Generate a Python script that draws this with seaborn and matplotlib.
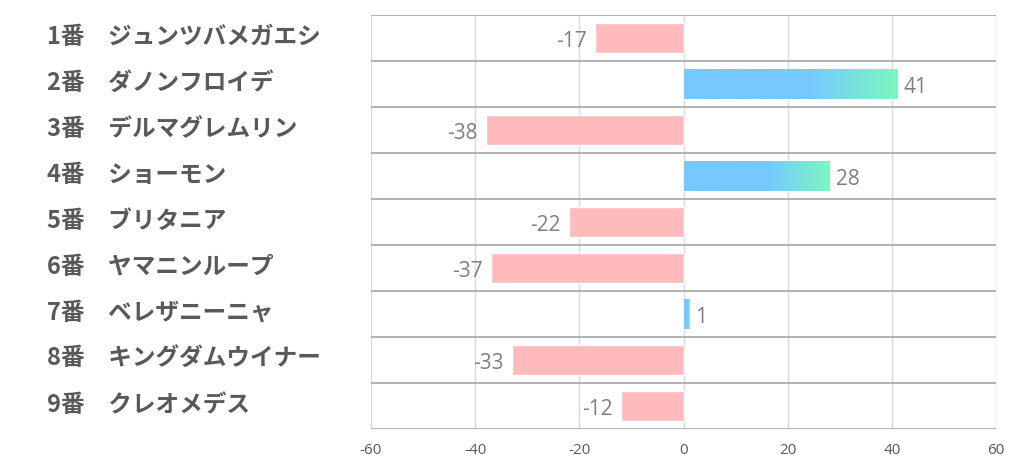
import matplotlib
matplotlib.use('Agg')
import matplotlib.pyplot as plt
import seaborn as sns
import numpy as np
import pandas as pd
from matplotlib.colors import to_rgb

# data
horses = ['1番　ジュンツバメガエシ', '2番　ダノンフロイデ', '3番　デルマグレムリン',
          '4番　ショーモン', '5番　ブリタニア', '6番　ヤマニンループ',
          '7番　ベレザニーニャ', '8番　キングダムウイナー', '9番　クレオメデス']
scores = [-17, 41, -38, 28, -22, -37, 1, -33, -12]
x_ticks = [-60, -40, -20, 0, 20, 40, 60]

neg_color = '#FFBBBB'
blue = '#75C9FF'
green = '#7DF7BE'

df = pd.DataFrame({'horse': horses, 'score': scores})

sns.set_style('white')
plt.rcParams['font.family'] = ['Noto Sans CJK JP', 'DejaVu Sans']

fig = plt.figure(figsize=(10.22, 4.70), dpi=100)
ax = fig.add_axes([371 / 1022, 41 / 470, 625 / 1022, 414 / 470])

palette = {h: (blue if s > 0 else neg_color) for h, s in zip(horses, scores)}
sns.barplot(data=df, x='score', y='horse', hue='horse', palette=palette,
            order=horses, legend=False, width=0.66, saturation=1, ax=ax, zorder=3)

ax.set_xlim(-60, 60)
ax.set_ylim(len(horses) - 0.5, -0.5)

# gradient on positive bars
b = np.array(to_rgb(blue))
g = np.array(to_rgb(green))
t = np.linspace(0, 1, 256)
w = np.clip((t - 0.58) / 0.42, 0, 1)[:, None]
grad = (b * (1 - w) + g * w)[None, :, :]
for patch, s in zip(ax.patches, scores):
    if s > 0:
        x0, y0 = patch.get_x(), patch.get_y()
        pw, ph = patch.get_width(), patch.get_height()
        im = ax.imshow(grad, extent=[x0, x0 + pw, y0 + ph, y0], aspect='auto',
                       zorder=4, interpolation='bilinear')
        im.set_clip_path(patch)
ax.set_xlim(-60, 60)
ax.set_ylim(len(horses) - 0.5, -0.5)

# value labels
for i, s in enumerate(scores):
    off = 1.2 if s >= 0 else 1.5
    ax.text(s + (off if s >= 0 else -off), i + 0.08, str(s),
            ha='left' if s >= 0 else 'right', va='center',
            fontsize=15, color='#7F7F7F', family=['Open Sans', 'DejaVu Sans'], zorder=5)

# grid
for x in x_ticks:
    ax.axvline(x, color='#D9D9D9', lw=1, zorder=1)
for y in np.arange(-0.5, len(horses), 1):
    ax.axhline(y, color='#A6A6A6', lw=1.2, zorder=2)

for sp in ax.spines.values():
    sp.set_visible(False)

ax.set_xticks(x_ticks)
ax.set_xticklabels([str(x) for x in x_ticks], fontsize=11, color='#595959',
                   family=['Open Sans', 'DejaVu Sans'])
ax.tick_params(axis='x', length=0, pad=10)
ax.tick_params(axis='y', length=0, pad=0)
ax.set_yticks(range(len(horses)))
ax.set_yticklabels([])
ax.set_xlabel('')
ax.set_ylabel('')

for i, h in enumerate(horses):
    ax.text(47 / 1022, 1 - (37 + 46 * i) / 470, h, transform=fig.transFigure,
            ha='left', va='center', fontsize=17, fontweight='bold', color='#595959')

fig.savefig('out.png', dpi=100, facecolor='white')
